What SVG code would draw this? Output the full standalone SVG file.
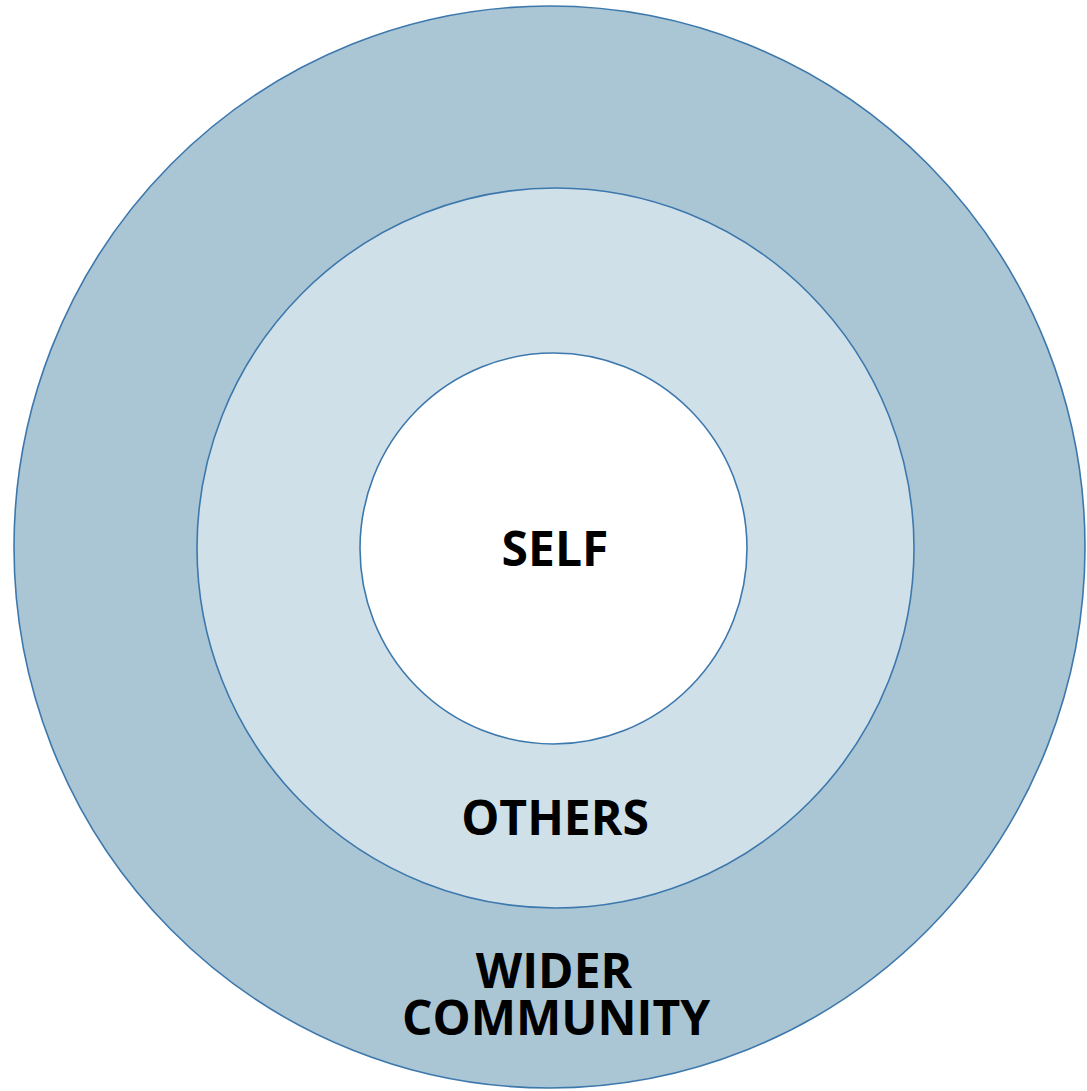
<svg xmlns="http://www.w3.org/2000/svg" width="1087" height="1091" viewBox="0 0 1087 1091">
<style>
.ring{stroke:#3d78ad;stroke-width:1.6}
.lbl{font-family:"Open Sans","Liberation Sans",sans-serif;font-weight:bold;font-size:48px;fill:#000;text-anchor:middle}
</style>
<rect width="1087" height="1091" fill="#fff"/>
<g id="wider-community">
<ellipse class="ring" cx="549.5" cy="547" rx="535.5" ry="541" fill="#aac6d5"/>
<text class="lbl"><tspan x="554" y="988">WIDER</tspan><tspan x="556" y="1035">COMMUNITY</tspan></text>
</g>
<g id="others">
<ellipse class="ring" cx="555.5" cy="548" rx="358.5" ry="360" fill="#d0e0e9"/>
<text class="lbl" x="555" y="835">OTHERS</text>
</g>
<g id="self">
<ellipse class="ring" cx="553.5" cy="548.5" rx="193.5" ry="195.5" fill="#fff"/>
<text class="lbl" x="555" y="566">SELF</text>
</g>
<g id="connectors"/>
</svg>
